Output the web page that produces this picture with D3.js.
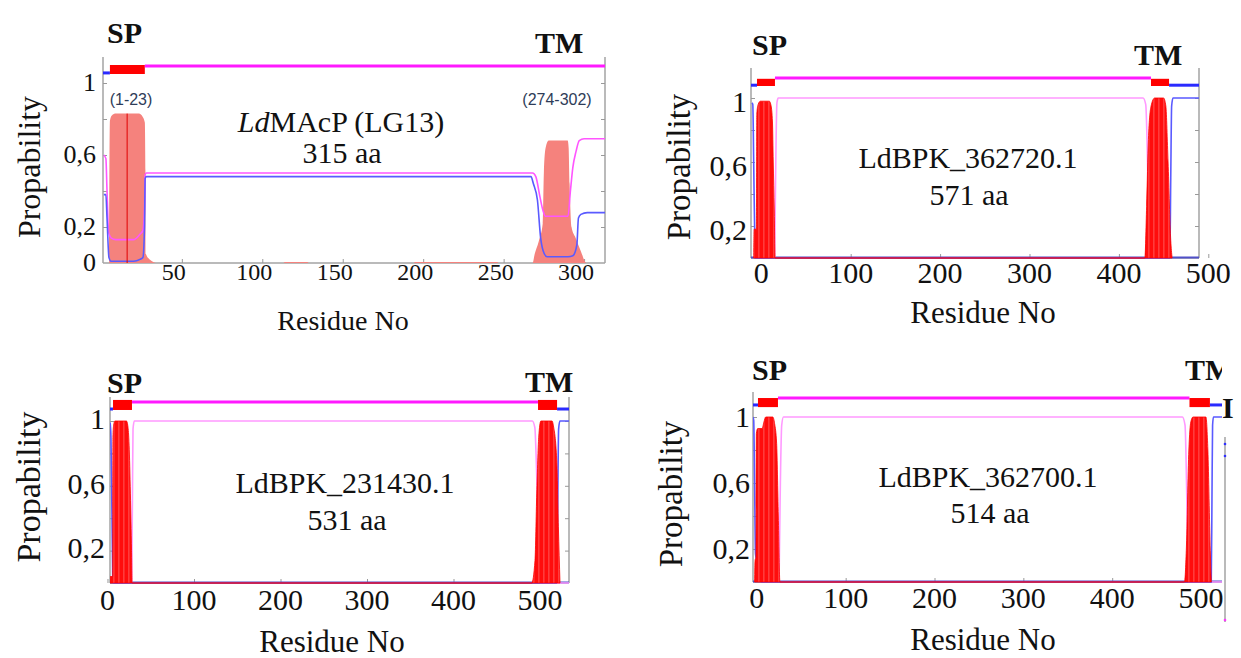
<!DOCTYPE html>
<html>
<head>
<meta charset="utf-8">
<script src="https://cdn.jsdelivr.net/npm/d3@7"></script>
<style>
  body { margin: 0; background: #fff; }
  svg { display: block; }
  .frame { stroke: #a3a3a3; stroke-width: 1.5; }
</style>
</head>
<body>
<svg width="1241" height="658"></svg>
<script>
// ---- data (residue, probability) ----

// panel 1: LdMAcP (LG13), 315 aa
var p1XTicks = [50, 100, 150, 200, 250, 300];
var p1YLabels = [0, 0.2, 0.6, 1];
var p1Top = [[1, 5.3, 'in'], [5.3, 27, 'tm'], [27, 313, 'out']];
var p1Tm = [[4.8,0],[5.3,0.79],[6.5,0.82],[9,0.83],[23.3,0.83],[25.8,0.81],[27,0.78],[27.4,0.5],[27.7,0.05],[30,0.02],[35,0],
  [113,0],[114,0.006],[128,0.006],[129,0],[194,0],[195,0.006],[246,0.006],[247,0],
  [268,0],[269.3,0.05],[271.8,0.12],[274.3,0.22],[275,0.5],[276.1,0.64],[278,0.68],[289.8,0.68],[290.4,0.64],[291,0.44],
  [292.2,0.2],[294.7,0.14],[297.8,0.07],[301.5,0],[313,0]];
var p1Out = [[1.5,0.6],[2.8,0.58],[3.5,0.4],[4.5,0.17],[6,0.14],[9,0.13],[20,0.13],[24,0.16],[25.8,0.18],[26.8,0.3],
  [27.2,0.49],[28,0.5],[268,0.5],[270,0.48],[272.5,0.37],[274.5,0.29],[276,0.26],[290,0.26],[291.5,0.4],[293,0.53],
  [295,0.62],[297,0.68],[300,0.69],[313,0.69]];
var p1In = [[1.5,0.38],[2.8,0.38],[3.5,0.25],[4.7,0.03],[6,0.01],[20,0.01],[24,0.02],[25.8,0.03],[26.8,0.2],[27.2,0.47],
  [28,0.48],[267,0.48],[268.5,0.44],[271,0.35],[273,0.14],[274.5,0.07],[277,0.035],[290,0.035],[293,0.04],[295.5,0.1],
  [296.5,0.25],[298,0.27],[302,0.28],[313,0.28]];
var p1Cut = 16;

// panel 2: LdBPK_362720.1, 571 aa
var p2XTicks = [0, 100, 200, 300, 400, 500];
var p2YLabels = [0.2, 0.6, 1];
var p2Top = [[-11.5, -4.8, 'in'], [-4.8, 15.3, 'tm'], [15.3, 435.9, 'out'], [435.9, 456.1, 'tm'], [456.1, 489.6, 'in']];
var p2Tm = [[-8.5,0],[-8,0.18],[-5.5,0.18],[-5,0.9],[-3.5,0.96],[-1,0.98],[9,0.98],[11,0.95],[12.5,0.85],[13.4,0.6],[14.5,0.3],[15.5,0],
  [429,0],[431,0.32],[433,0.74],[436,0.95],[440,1],[450,1],[452.5,0.95],[455,0.6],[458,0.11],[459.5,0]];
var p2Out = [[15,0],[16,0.5],[17.5,0.97],[19,1],[427,1],[430,0.96],[432,0.6],[433.5,0.1],[435,0]];
var p2In = [[-10.5,0.97],[-9.5,0.96],[-8.5,0.6],[-7.5,0.2],[-6.5,0],[457,0],[458,0.5],[459,0.95],[460.5,1],[489.6,1]];

// panel 3: LdBPK_231430.1, 531 aa
var p3XTicks = [0, 100, 200, 300, 400, 500];
var p3YLabels = [0.2, 0.6, 1];
var p3Top = [[2.9, 6.4, 'in'], [6.4, 28.3, 'tm'], [28.3, 497.7, 'out'], [497.7, 519.7, 'tm'], [519.7, 533.5, 'in']];
var p3Tm = [[3,0],[3.2,0.04],[6,0.04],[6.3,0.9],[7,0.97],[8.5,1],[22,1],[23.5,0.97],[25,0.85],[26.5,0.55],[27.8,0.2],[28.5,0],
  [490.4,0],[494.2,0.14],[496.2,0.55],[498.5,0.9],[501,1],[514,1],[515.5,0.97],[519.3,0.76],[521.2,0.35],[523.1,0]];
var p3Out = [[28,0],[28.8,0.5],[29.5,0.95],[31,1],[491,1],[494,0.96],[496.5,0.6],[498.5,0.2],[500,0],[533.5,0]];
var p3In = [[3,0.99],[4,0.9],[5,0.5],[6,0.05],[6.5,0],[519.5,0],[520.5,0.5],[521.5,0.95],[523,1],[533.5,1]];

// panel 4: LdBPK_362700.1, 514 aa
var p4XTicks = [0, 100, 200, 300, 400, 500];
var p4YLabels = [0.2, 0.6, 1];
var p4Top = [[-4.3, 1.3, 'in'], [1.3, 23.8, 'tm'], [23.8, 487, 'out'], [487, 510, 'tm'], [510, 523.6, 'in']];
var p4Tm = [[-2.5,0],[-2,0.13],[-1,0.15],[-0.5,0.9],[1,0.93],[6,0.93],[8,0.97],[10,1],[18,1],[20,0.96],[22.3,0.84],[24.2,0.4],[26,0],
  [481.4,0],[483.4,0.19],[486.3,0.8],[488.5,0.97],[491,1],[505.5,1],[507.7,0.8],[510.4,0.19],[511.5,0]];
var p4Out = [[25,0],[26.5,0.6],[28,0.95],[30,1],[479,1],[482,0.95],[484,0.5],[485.5,0],[523.6,0]];
var p4In = [[-4.3,1],[-3.5,0.98],[-2.5,0.6],[-1.5,0.17],[0,0.13],[3,0.03],[5,0],[511.5,0],[512.3,0.5],[513,0.95],[514,1],[523.6,1]];

// ---- drawing ----
var SERIF = '"Liberation Serif", "DejaVu Serif", "Times New Roman", Times, serif';
var svg = d3.select('svg');
var fmt = d3.formatLocale({decimal: ',', thousands: ' ', grouping: [3], currency: ['', '']}).format('~g');

var defs = svg.append('defs');
var pat = defs.append('pattern').attr('id', 'stripes')
    .attr('patternUnits', 'userSpaceOnUse').attr('width', 5).attr('height', 10);
pat.append('rect').attr('width', 5).attr('height', 10).attr('fill', '#ff0d0d');
pat.append('rect').attr('x', 3.5).attr('width', 0.8).attr('height', 10).attr('fill', '#ff6a6a');

var panelId = 0;

// every label goes through here so the serif face is set on the element itself
label = (sel, size, txt) => sel.append('text')
    .attr('font-family', SERIF).attr('font-size', size).attr('fill', '#111')
    .text(txt);

drawPanel = (p) => {
    panelId++;
    var x = d3.scaleLinear().domain(p.domain).range([p.left, p.right]);
    var y = d3.scaleLinear().domain([0, 1]).range([p.base, p.base - p.unit]);
    var g = svg.append('g');

    var clipId = 'clip' + panelId;
    defs.append('clipPath').attr('id', clipId).append('rect')
        .attr('x', p.left).attr('y', p.top - 20).attr('width', p.right - p.left).attr('height', p.base - p.top + 22);

    // frame
    g.append('line').attr('class', 'frame')
        .attr('x1', p.left).attr('x2', p.left).attr('y1', p.top).attr('y2', p.base);
    if (p.rightFrame) {
        g.append('line').attr('class', 'frame')
            .attr('x1', p.right).attr('x2', p.right).attr('y1', p.top).attr('y2', p.base);
    }
    g.append('line').attr('class', 'frame')
        .attr('x1', p.left).attr('x2', p.right).attr('y1', p.base).attr('y2', p.base);

    // small inward ticks
    var yt = [0.2, 0.4, 0.6, 0.8, 1];
    var yl = g.append('g').attr('transform', 'translate(' + p.left + ',0)').style('color', '#999')
        .call(d3.axisRight(y).tickValues(yt).tickSize(4).tickFormat(''));
    yl.select('.domain').remove();
    if (p.rightFrame) {
        var yr = g.append('g').attr('transform', 'translate(' + p.right + ',0)').style('color', '#999')
            .call(d3.axisLeft(y).tickValues(yt).tickSize(4).tickFormat(''));
        yr.select('.domain').remove();
    }
    var xa = g.append('g').attr('transform', 'translate(0,' + p.base + ')').style('color', '#999')
        .call(d3.axisTop(x).tickValues(p.xTicks).tickSize(4).tickFormat(''));
    xa.select('.domain').remove();

    var plot = g.append('g').attr('clip-path', 'url(#' + clipId + ')');

    var line = d3.line().x(d => x(d[0])).y(d => y(d[1])).curve(d3.curveMonotoneX);
    var area = d3.area().x(d => x(d[0])).y0(y(0)).y1(d => y(d[1])).curve(d3.curveMonotoneX);

    var drawArea = () => {
        plot.append('path').datum(p.tm).attr('d', area)
            .attr('fill', p.soft ? '#f5827d' : 'url(#stripes)')
            .attr('stroke', p.soft ? 'none' : '#ff0000').attr('stroke-width', 0.8);
    };
    var drawLines = () => {
        // baseline for the non-membrane parts
        if (!p.soft) {
            plot.append('line').attr('x1', p.left).attr('x2', p.right)
                .attr('y1', p.base - 0.5).attr('y2', p.base - 0.5)
                .attr('stroke', '#5050c8').attr('stroke-width', 2);
        }
        plot.append('path').datum(p.out).attr('d', line).attr('fill', 'none')
            .attr('stroke', p.soft ? '#ff55ff' : '#ff99ff').attr('stroke-width', 1.6);
        plot.append('path').datum(p.inn).attr('d', line).attr('fill', 'none')
            .attr('stroke', '#5a5aff').attr('stroke-width', 1.6);
    };
    if (p.soft) { drawArea(); drawLines(); } else { drawLines(); drawArea(); }

    if (p.cut != null) {
        plot.append('line').attr('x1', x(p.cut)).attr('x2', x(p.cut))
            .attr('y1', y(0)).attr('y2', y(0.83)).attr('stroke', '#e00000').attr('stroke-width', 1);
    }

    // topology bar above the plot
    p.topSegs.forEach(s => {
        if (s[2] === 'tm') {
            plot.append('rect').attr('x', x(s[0])).attr('width', x(s[1]) - x(s[0]))
                .attr('y', y(p.tmHi)).attr('height', y(p.tmLo) - y(p.tmHi)).attr('fill', '#ff0000');
        } else {
            var lv = s[2] === 'out' ? p.outLevel : p.inLevel;
            plot.append('line').attr('x1', x(s[0])).attr('x2', x(s[1]))
                .attr('y1', y(lv)).attr('y2', y(lv))
                .attr('stroke', s[2] === 'out' ? '#ff1aff' : '#2a2aff').attr('stroke-width', 3);
        }
    });

    // tick labels
    p.xTicks.forEach(v => {
        label(g, p.xFont, v).attr('x', x(v) + p.xDx).attr('y', p.xLabelY).attr('text-anchor', 'middle');
    });
    p.yLabels.forEach(v => {
        label(g, p.yFont, fmt(v)).attr('x', p.yLabelX).attr('y', y(v) + p.yDy)
            .attr('text-anchor', 'end').attr('dominant-baseline', 'middle');
    });

    // axis titles
    label(g, p.titleFont, 'Residue No').attr('x', p.xTitle[0]).attr('y', p.xTitle[1]).attr('text-anchor', 'middle');
    label(g, p.yTitleFont, 'Propability').attr('text-anchor', 'middle')
        .attr('transform', 'translate(' + p.yTitle[0] + ',' + p.yTitle[1] + ') rotate(-90)');

    // SP / TM markers
    label(g, 30, 'SP').attr('x', p.sp[0]).attr('y', p.sp[1]).attr('font-weight', 'bold');
    var tm = label(g, 30, 'TM').attr('x', p.tmLab[0]).attr('y', p.tmLab[1]).attr('font-weight', 'bold');
    if (p.tmClip) {
        defs.append('clipPath').attr('id', 'tmclip').append('rect')
            .attr('x', 0).attr('y', 0).attr('width', p.tmClip).attr('height', 658);
        tm.attr('clip-path', 'url(#tmclip)');
    }

    // protein name and length
    var t1 = label(g, 30, null).attr('x', p.name[0]).attr('y', p.name[1]).attr('text-anchor', 'middle');
    if (p.italicPrefix) {
        t1.append('tspan').attr('font-style', 'italic').text(p.italicPrefix);
    }
    t1.append('tspan').text(p.nameText);
    label(g, 30, p.lenText).attr('x', p.len[0]).attr('y', p.len[1]).attr('text-anchor', 'middle');

    return {x: x, y: y, g: g};
};

var a = drawPanel({
    domain: [1, 313], left: 103, right: 605, top: 57, base: 263, unit: 180, rightFrame: true,
    xTicks: p1XTicks, xDx: -8, xLabelY: 280, xFont: 24,
    yLabels: p1YLabels, yLabelX: 96, yDy: 2, yFont: 26,
    xTitle: [343, 330], yTitle: [40, 167], titleFont: 28, yTitleFont: 32,
    sp: [107, 43], tmLab: [535, 53],
    name: [341, 132], italicPrefix: 'Ld', nameText: 'MAcP (LG13)', len: [342, 163], lenText: '315 aa',
    topSegs: p1Top, outLevel: 1.094, inLevel: 1.056, tmLo: 1.05, tmHi: 1.1,
    tm: p1Tm, out: p1Out, inn: p1In, soft: true, cut: p1Cut
});
// signal-peptide and TM spans printed on panel 1
a.g.append('text').attr('x', 131).attr('y', 105).attr('text-anchor', 'middle')
    .attr('font-family', '"Liberation Sans", Arial, sans-serif').attr('font-size', 16).attr('fill', '#2e3c58')
    .text('(1-23)');
a.g.append('text').attr('x', 557).attr('y', 105).attr('text-anchor', 'middle')
    .attr('font-family', '"Liberation Sans", Arial, sans-serif').attr('font-size', 16).attr('fill', '#2e3c58')
    .text('(274-302)');

drawPanel({
    domain: [-11.5, 489.6], left: 751, right: 1199, top: 68, base: 258, unit: 160, rightFrame: true,
    xTicks: p2XTicks, xDx: 0, xLabelY: 283, xFont: 30,
    yLabels: p2YLabels, yLabelX: 747, yDy: 7, yFont: 30,
    xTitle: [983, 323], yTitle: [690, 167], titleFont: 31, yTitleFont: 33,
    sp: [752, 55], tmLab: [1134, 65],
    name: [968, 168], nameText: 'LdBPK_362720.1', len: [969, 205], lenText: '571 aa',
    topSegs: p2Top, outLevel: 1.125, inLevel: 1.08, tmLo: 1.075, tmHi: 1.12,
    tm: p2Tm, out: p2Out, inn: p2In, soft: false
});

drawPanel({
    domain: [2.9, 533.5], left: 110, right: 569, top: 397, base: 583, unit: 162, rightFrame: true,
    xTicks: p3XTicks, xDx: 0, xLabelY: 610, xFont: 30,
    yLabels: p3YLabels, yLabelX: 105, yDy: 1, yFont: 30,
    xTitle: [332, 652], yTitle: [40, 487], titleFont: 31, yTitleFont: 34,
    sp: [107, 393], tmLab: [525, 392],
    name: [345, 493], nameText: 'LdBPK_231430.1', len: [347, 530], lenText: '531 aa',
    topSegs: p3Top, outLevel: 1.117, inLevel: 1.074, tmLo: 1.068, tmHi: 1.13,
    tm: p3Tm, out: p3Out, inn: p3In, soft: false
});

var d = drawPanel({
    domain: [-4.3, 523.6], left: 753, right: 1222, top: 392, base: 582, unit: 165, rightFrame: false,
    xTicks: p4XTicks, xDx: 0, xLabelY: 608, xFont: 30,
    yLabels: p4YLabels, yLabelX: 750, yDy: 3, yFont: 30,
    xTitle: [983, 650], yTitle: [682, 494], titleFont: 31, yTitleFont: 33,
    sp: [752, 380], tmLab: [1185, 380], tmClip: 1222,
    name: [988, 487], nameText: 'LdBPK_362700.1', len: [990, 523], lenText: '514 aa',
    topSegs: p4Top, outLevel: 1.115, inLevel: 1.073, tmLo: 1.06, tmHi: 1.115,
    tm: p4Tm, out: p4Out, inn: p4In, soft: false
});
// cropped remains of a neighbouring plot at the right edge of panel 4
label(d.g, 30, 'I').attr('x', 1222).attr('y', 418).attr('font-weight', 'bold');
d.g.append('line').attr('class', 'frame').attr('x1', 1225).attr('x2', 1225).attr('y1', 437).attr('y2', 622);
d.g.append('circle').attr('cx', 1225).attr('cy', 444).attr('r', 1.3).attr('fill', '#3030ff');
d.g.append('circle').attr('cx', 1225).attr('cy', 456).attr('r', 1.3).attr('fill', '#3030ff');
d.g.append('circle').attr('cx', 1225).attr('cy', 620).attr('r', 1.3).attr('fill', '#ff33ff');
</script>
</body>
</html>
